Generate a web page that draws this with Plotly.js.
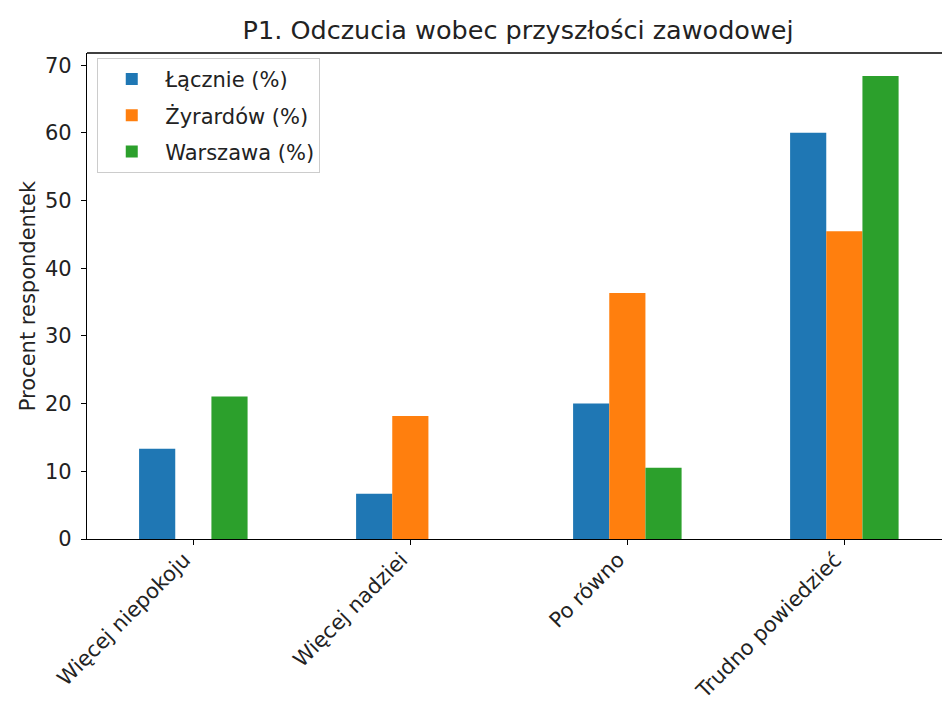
<!DOCTYPE html>
<html>
<head>
<meta charset="utf-8">
<script src="https://cdn.plot.ly/plotly-3.0.1.min.js"></script>
<style>
    html, body { margin: 0; padding: 0; background: #fff; }
    #chart { width: 942px; height: 702px; }
</style>
</head>
<body>
<div id="chart"></div>
<script>
// Kategorie odpowiedzi
const categories = ['Więcej niepokoju', 'Więcej nadziei', 'Po równo', 'Trudno powiedzieć'];

// Wartości procentowe dla każdej grupy
const lacznie = [13.33, 6.67, 20.0, 60.0];
const zyrardow = [0, 18.18, 36.36, 45.45];
const warszawa = [21.05, 0, 10.53, 68.42];

const seriesNames = ['Łącznie (%)', 'Żyrardów (%)', 'Warszawa (%)'];
const seriesColors = ['#1f77b4', '#ff7f0e', '#2ca02c'];

const xIdx = categories.map((c, i) => i);

const traces = [lacznie, zyrardow, warszawa].map((vals, k) => ({
    x: xIdx,
    y: vals,
    name: seriesNames[k],
    legendgroup: 'g' + k,
    type: 'bar',
    marker: { color: seriesColors[k], line: { width: 0 } },
    hoverinfo: 'y+name'
}));

const font = 'DejaVu Sans, sans-serif';
const fs = 21;

const layout = {
    width: 942,
    height: 702,
    paper_bgcolor: '#fff',
    plot_bgcolor: '#fff',
    margin: { l: 87, r: 0, t: 53, b: 163 },
    font: { family: font, color: '#222', size: fs },
    title: {
        text: 'P1. Odczucia wobec przyszłości zawodowej',
        font: { family: font, size: 25.5, color: '#222' },
        x: 0.55, xanchor: 'center',
        y: 0.957, yanchor: 'middle'
    },
    barmode: 'group',
    bargap: 0.5,
    bargroupgap: 0,
    xaxis: {
        range: [-0.49, 3.45],
        tickmode: 'array',
        tickvals: xIdx,
        ticktext: categories,
        tickangle: -45,
        ticklabelshift: -9,
        ticklabelstandoff: -6,
        ticks: 'outside',
        ticklen: 5,
        tickcolor: '#000',
        showline: true,
        linecolor: '#000',
        linewidth: 1.3,
        showgrid: false,
        zeroline: false,
        tickfont: { family: font, size: fs, color: '#222' }
    },
    yaxis: {
        range: [0, 71.8],
        tickvals: [0, 10, 20, 30, 40, 50, 60, 70],
        ticks: 'outside',
        ticklen: 5,
        ticklabelstandoff: 5,
        tickcolor: '#000',
        showline: true,
        linecolor: '#000',
        linewidth: 1.3,
        showgrid: false,
        zeroline: false,
        tickfont: { family: font, size: fs, color: '#222' },
        title: {
            text: 'Procent respondentek',
            font: { family: font, size: fs, color: '#222' },
            standoff: 3
        }
    },
    shapes: [
        // górna krawędź osi (jak w matplotlib)
        { type: 'line', xref: 'paper', yref: 'paper', x0: 0, x1: 1, y0: 1, y1: 1,
          line: { color: '#000', width: 1.3 } }
    ],
    legend: {
        x: 0.012, y: 0.99,
        xanchor: 'left', yanchor: 'top',
        bgcolor: 'rgba(255,255,255,0.8)',
        bordercolor: '#ccc',
        borderwidth: 1,
        font: { family: font, size: fs, color: '#222' },
        itemwidth: 57,
        tracegroupgap: 6
    },
    showlegend: true
};

Plotly.newPlot('chart', traces, layout, { displayModeBar: false, responsive: false });
</script>
</body>
</html>
